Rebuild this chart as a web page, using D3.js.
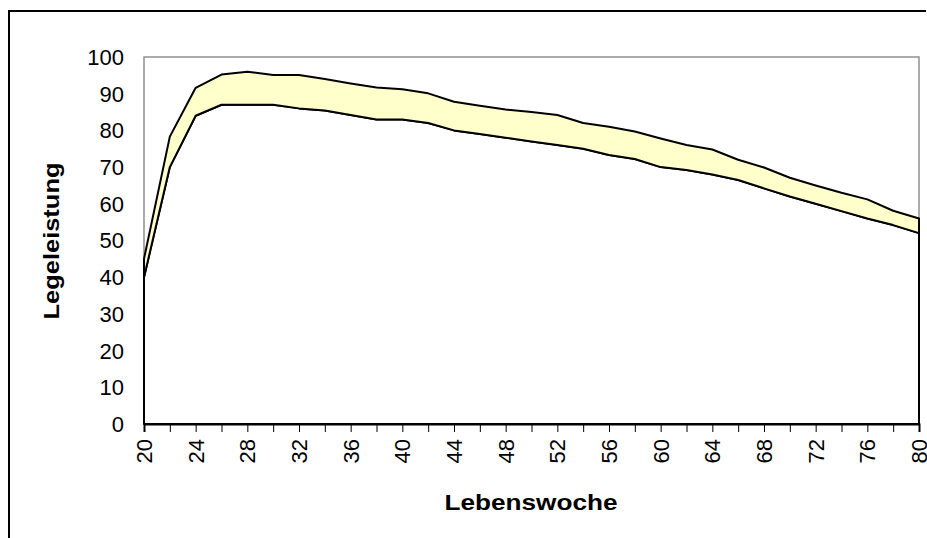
<!DOCTYPE html>
<html>
<head>
<meta charset="utf-8">
<script src="https://cdn.jsdelivr.net/npm/d3@7"></script>
<style>
  body { margin: 0; background: #fff; }
  svg { display: block; font-family: "Liberation Sans", Arial, sans-serif; }
</style>
</head>
<body>
<svg id="chart" width="927" height="538"></svg>
<script>
// Lebenswoche 20..80, every 2 weeks
var weeks = [20, 22, 24, 26, 28, 30, 32, 34, 36, 38, 40, 42, 44, 46, 48, 50,
             52, 54, 56, 58, 60, 62, 64, 66, 68, 70, 72, 74, 76, 78, 80];
// lower curve
var lower = [40, 70, 84, 87, 87, 87, 86, 85.4, 84.2, 83, 83, 82, 80, 79, 78, 77,
             76, 75, 73.3, 72.2, 70, 69.2, 68, 66.5, 64.2, 62, 60, 58, 56, 54.2, 52];
// upper curve
var upper = [45, 78.3, 91.6, 95.2, 96, 95.1, 95.1, 94, 92.8, 91.7, 91.2, 90.1, 87.8, 86.7, 85.7, 85,
             84.2, 82, 81, 79.7, 77.8, 76, 74.8, 72, 69.9, 67.1, 65, 63, 61.2, 58.1, 56];
var yTicks = [0, 10, 20, 30, 40, 50, 60, 70, 80, 90, 100];
var xLabels = [20, 24, 28, 32, 36, 40, 44, 48, 52, 56, 60, 64, 68, 72, 76, 80];

var svg = d3.select("#chart");
var margin = { top: 57, right: 8, bottom: 114, left: 144 };
var width = 927 - margin.left - margin.right;
var height = 538 - margin.top - margin.bottom;

// outer frame (only top and left visible)
svg.append("path")
    .attr("d", "M9,538V11H926")
    .attr("fill", "none")
    .attr("stroke", "#000")
    .attr("stroke-width", 2);

var g = svg.append("g").attr("transform", "translate(" + margin.left + "," + margin.top + ")");

var x = d3.scaleLinear().domain([20, 80]).range([0, width]);
var y = d3.scaleLinear().domain([0, 100]).range([height, 0]);

var data = weeks.map(function (w, i) { return { w: w, lo: lower[i], hi: upper[i] }; });

// plot area border
g.append("rect")
    .attr("x", 0).attr("y", 0)
    .attr("width", width).attr("height", height)
    .attr("fill", "#fff")
    .attr("stroke", "#909090")
    .attr("stroke-width", 1.5);

// lower series (white area from zero)
var areaLow = d3.area()
    .x(function (d) { return x(d.w); })
    .y0(function () { return y(0); })
    .y1(function (d) { return y(d.lo); });

g.append("path")
    .datum(data)
    .attr("d", areaLow)
    .attr("fill", "#fff")
    .attr("stroke", "#000")
    .attr("stroke-width", 2)
    .attr("stroke-linejoin", "round");

// band between the curves
var band = d3.area()
    .x(function (d) { return x(d.w); })
    .y0(function (d) { return y(d.lo); })
    .y1(function (d) { return y(d.hi); });

g.append("path")
    .datum(data)
    .attr("d", band)
    .attr("fill", "#ffffcc")
    .attr("stroke", "#000")
    .attr("stroke-width", 2)
    .attr("stroke-linejoin", "round");

// y labels (no axis line)
g.selectAll(".ylab")
    .data(yTicks)
    .enter().append("text")
    .attr("class", "ylab")
    .attr("x", -20)
    .attr("y", function (d) { return y(d); })
    .attr("dy", "0.36em")
    .attr("text-anchor", "end")
    .style("font-size", "22px")
    .text(function (d) { return d; });

// x axis
var xAxis = g.append("g")
    .attr("transform", "translate(0," + height + ")")
    .call(d3.axisBottom(x).tickValues(weeks).tickSize(8).tickFormat(""));
xAxis.select(".domain").attr("stroke", "#000").attr("stroke-width", 2);
xAxis.selectAll(".tick line").attr("stroke", "#000").attr("stroke-width", 1);

g.selectAll(".xlab")
    .data(xLabels)
    .enter().append("text")
    .attr("class", "xlab")
    .attr("transform", function (d) { return "translate(" + x(d) + "," + (height + 15) + ") rotate(-90)"; })
    .attr("dy", "0.36em")
    .attr("text-anchor", "end")
    .style("font-size", "22px")
    .text(function (d) { return d; });

// axis titles
svg.append("text")
    .attr("x", 531)
    .attr("y", 510)
    .attr("text-anchor", "middle")
    .attr("textLength", 173)
    .attr("lengthAdjust", "spacingAndGlyphs")
    .style("font-size", "22px")
    .style("font-weight", "bold")
    .text("Lebenswoche");

svg.append("text")
    .attr("transform", "translate(59,241) rotate(-90)")
    .attr("text-anchor", "middle")
    .attr("textLength", 157)
    .attr("lengthAdjust", "spacingAndGlyphs")
    .style("font-size", "22px")
    .style("font-weight", "bold")
    .text("Legeleistung");
</script>
</body>
</html>
